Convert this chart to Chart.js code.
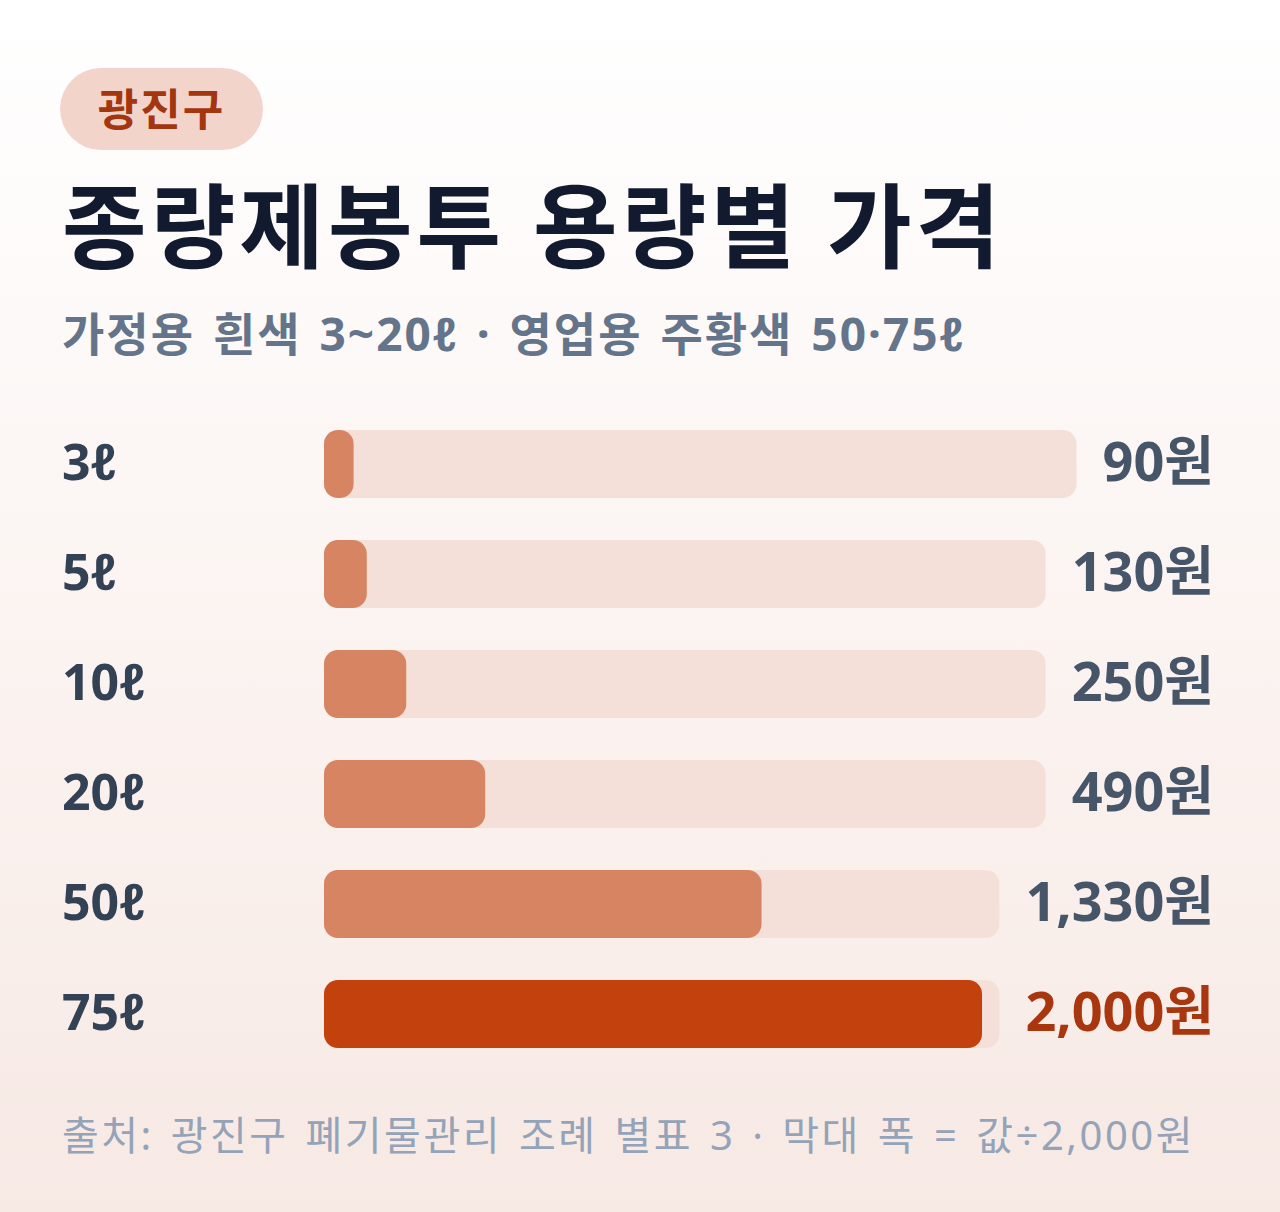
<!DOCTYPE html>
<html><head><meta charset="utf-8">
<script src="https://cdn.jsdelivr.net/npm/chart.js@4"></script>
<style>
body{margin:0;width:1280px;height:1212px;overflow:hidden;font-family:"Noto Sans","Noto Sans CJK KR",sans-serif;background:linear-gradient(#ffffff,#f7e9e4);position:relative}
.pill{position:absolute;left:60px;top:68px;width:203px;height:82px;border-radius:41px;background:#f2d4ca;color:#a3360f;font-weight:700;font-size:44px;line-height:82px;text-align:center;letter-spacing:2px}
h1{position:absolute;left:62px;top:166px;margin:0;font-size:92px;font-weight:700;color:#111a2e;letter-spacing:4px;line-height:120px}
.sub{position:absolute;left:62px;top:298px;font-size:46px;font-weight:700;color:#64748b;letter-spacing:2px;word-spacing:4px}
.src{position:absolute;left:62px;top:1104px;font-size:40px;color:#94a3b8;letter-spacing:2.5px;word-spacing:4px}
#wrap{position:absolute;left:0;top:409px;width:1280px;height:660px}
</style></head><body>
<div class="pill">광진구</div>
<h1>종량제봉투 용량별 가격</h1>
<div class="sub">가정용 흰색 3~20ℓ · 영업용 주황색 50·75ℓ</div>
<div id="wrap"><canvas id="chart"></canvas></div>
<div class="src">출처: 광진구 폐기물관리 조례 별표 3 · 막대 폭 = 값÷2,000원</div>
<script>
var sizes = ["3ℓ", "5ℓ", "10ℓ", "20ℓ", "50ℓ", "75ℓ"];
var prices = [90, 130, 250, 490, 1330, 2000];
var priceLabels = ["90원", "130원", "250원", "490원", "1,330원", "2,000원"];
var maxPrice = 2000;

var barColors = prices.map((v, i) => i === prices.length - 1 ? "#c2410c" : "#d68461");
var textColors = prices.map((v, i) => i === prices.length - 1 ? "#a8360e" : "#475569");

var trackPlugin = {
  id: "track",
  beforeDatasetsDraw(chart) {
    var c = chart.ctx, x = chart.scales.x;
    var meta = chart.getDatasetMeta(0);
    c.save();
    meta.data.forEach((bar, i) => {
      c.font = "700 54px 'Noto Sans', 'Noto Sans CJK KR'";
      var w = c.measureText(priceLabels[i]).width;
      var x0 = x.getPixelForValue(0), x1 = Math.max(1214 - w - 26, x.getPixelForValue(maxPrice));
      var h = bar.height;
      c.fillStyle = "#f4e0d8";
      c.beginPath();
      c.roundRect(x0, bar.y - h / 2, x1 - x0, h, 14);
      c.fill();
      c.fillStyle = textColors[i];
      c.textAlign = "right"; c.textBaseline = "middle";
      c.fillText(priceLabels[i], 1214, bar.y + 2);
      c.font = "700 50px 'Noto Sans', 'Noto Sans CJK KR'";
      c.fillStyle = "#334155"; c.textAlign = "left";
      c.fillText(sizes[i], 62, bar.y + 2);
    });
    c.restore();
  }
};

new Chart(document.getElementById("chart"), {
  type: "bar",
  data: {
    labels: sizes,
    datasets: [{
      data: prices,
      backgroundColor: barColors,
      borderRadius: 14,
      borderSkipped: false,
      categoryPercentage: 68 / 110,
      barPercentage: 1
    }]
  },
  options: {
    indexAxis: "y",
    responsive: true,
    maintainAspectRatio: false,
    animation: false,
    layout: { padding: { left: 324, right: 298, top: 0, bottom: 0 } },
    scales: {
      x: { display: false, min: 0, max: maxPrice },
      y: { display: false }
    },
    plugins: { legend: { display: false }, tooltip: { enabled: false } }
  },
  plugins: [trackPlugin]
});
</script>
</body></html>
